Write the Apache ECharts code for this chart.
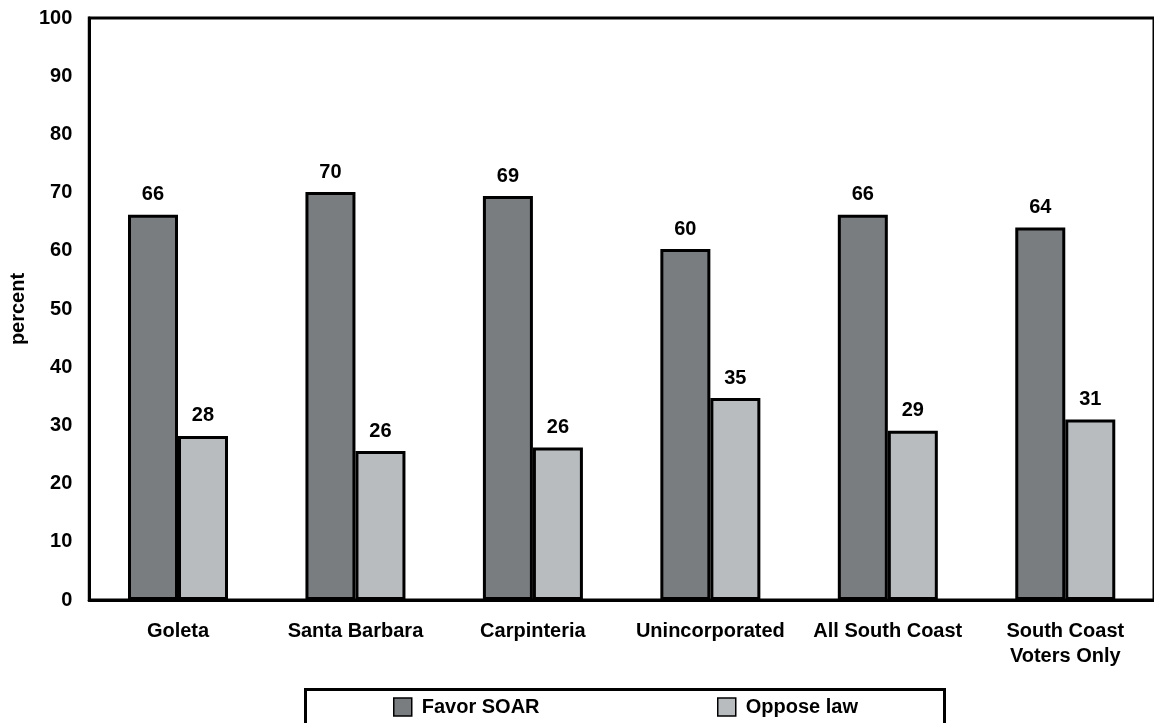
<!DOCTYPE html>
<html>
<head>
<meta charset="utf-8">
<script src="https://cdn.jsdelivr.net/npm/echarts@6/dist/echarts.min.js"></script>
<style>
html,body{margin:0;padding:0;background:#fff;}
#chart{width:1154px;height:723px;}
</style>
</head>
<body>
<div id="chart"></div>
<script>
const categories = ['Goleta', 'Santa Barbara', 'Carpinteria', 'Unincorporated', 'All South Coast', 'South Coast\nVoters Only'];
const favorValues = [66.2, 70.1, 69.4, 60.3, 66.2, 64.0];
const opposeValues = [28.2, 25.6, 26.2, 34.7, 29.1, 31.0];
const seriesNames = ['Favor SOAR', 'Oppose law'];
const yTicks = { min: 0, max: 100, interval: 10 };

const FONT = "'Liberation Sans', Arial, sans-serif";
const txt = { fontFamily: FONT, fontWeight: 'bold', fontSize: 20, color: '#000' };

const chart = echarts.init(document.getElementById('chart'));
chart.setOption({
  animation: false,
  backgroundColor: '#fff',
  textStyle: { fontFamily: FONT },
  grid: { left: 89, right: -6, top: 18, bottom: 123, show: true, borderColor: '#000', borderWidth: 3, backgroundColor: 'transparent' },
  legend: [
    { data: [seriesNames[0]], left: 393, top: 697, padding: 0, itemWidth: 18, itemHeight: 18, icon: 'rect',
      itemStyle: { borderWidth: 1.5, borderColor: '#000' },
      textStyle: Object.assign({}, txt, { padding: [0, 0, 0, 5] }) },
    { data: [seriesNames[1]], left: 717, top: 697, padding: 0, itemWidth: 18, itemHeight: 18, icon: 'rect',
      itemStyle: { borderWidth: 1.5, borderColor: '#000' },
      textStyle: Object.assign({}, txt, { padding: [0, 0, 0, 5] }) }
  ],
  graphic: [{
    type: 'rect', left: 303, top: 687, z: 0,
    shape: { x: 1.5, y: 1.5, width: 639, height: 60 },
    style: { fill: 'none', stroke: '#000', lineWidth: 3 }
  }],
  xAxis: {
    type: 'category',
    data: categories,
    axisLine: { lineStyle: { color: '#000', width: 3 } },
    axisTick: { show: false },
    axisLabel: Object.assign({}, txt, { interval: 0, margin: 19, lineHeight: 25 }),
    splitLine: { show: false }
  },
  yAxis: {
    type: 'value',
    min: yTicks.min, max: yTicks.max, interval: yTicks.interval,
    name: 'percent',
    nameLocation: 'middle',
    nameGap: 61,
    nameTextStyle: Object.assign({}, txt),
    axisLine: { show: true, lineStyle: { color: '#000', width: 3 } },
    axisTick: { show: false },
    axisLabel: Object.assign({}, txt, { margin: 17 }),
    splitLine: { show: false }
  },
  series: [
    {
      name: seriesNames[0], type: 'bar', data: favorValues,
      barWidth: 50, barGap: '0%',
      itemStyle: { color: '#7a7d80', borderColor: '#000', borderWidth: 3 },
      label: Object.assign({}, txt, { show: true, position: 'top', distance: 10, formatter: p => Math.round(p.value) })
    },
    {
      name: seriesNames[1], type: 'bar', data: opposeValues,
      barWidth: 50, barGap: '0%',
      itemStyle: { color: '#b8bcbe', borderColor: '#000', borderWidth: 3 },
      label: Object.assign({}, txt, { show: true, position: 'top', distance: 10, formatter: p => Math.round(p.value) })
    }
  ]
});
</script>
</body>
</html>
